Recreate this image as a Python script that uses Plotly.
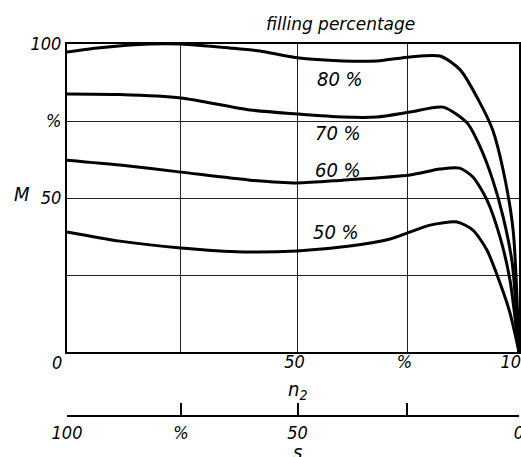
import plotly.graph_objects as go

# n2 values (x) and M values (y) for each filling percentage curve
x80 = [0, 7.3, 18.4, 25.2, 36, 42.7, 50.9, 61, 68.6, 75.9, 82.5, 87, 91.4, 94.2, 96.5, 98.7, 100]
y80 = [97.4, 98.8, 100, 100, 98.7, 97.7, 95.5, 94.5, 94.5, 95.8, 96.1, 91.6, 80.8, 72, 59, 39.6, 0]

x70 = [0, 11.7, 25.2, 40.5, 50.9, 61, 68.6, 75.9, 83.2, 88.5, 91.4, 94.2, 96.5, 98.5, 100]
y70 = [83.8, 83.6, 82.5, 78.6, 77.3, 76.3, 76.3, 77.9, 79.5, 74.4, 66.6, 55.8, 43.8, 28.9, 0]

x60 = [0, 11.7, 25.2, 40.5, 50.9, 61, 75.9, 82.5, 86.9, 89.8, 92.9, 95.8, 98, 100]
y60 = [62.3, 60.7, 58.4, 55.8, 54.9, 55.8, 57.5, 59.4, 59.7, 56.8, 49.4, 37.3, 23.4, 0]

x50 = [0, 11.7, 25.2, 38.9, 50.9, 62.6, 71.5, 75.2, 80.3, 86.3, 89.8, 92.9, 95.8, 98, 100]
y50 = [39, 36, 33.8, 32.5, 32.8, 34.4, 36.7, 38.6, 41.2, 42.2, 39.6, 33.1, 22.4, 12.7, 0]

series_names = ["80 %", "70 %", "60 %", "50 %"]
label_x = [60.5, 60, 60, 59.5]
label_y = [88.5, 71, 59, 39]

n2_ticks = [51, 75.3, 100]
n2_ticktext = ["50", "%", "100"]
n2_minor = [25.2]
s_ticks = [100, 74.8, 49, 0]
s_ticktext = ["100", "%", "50", "0"]
s_minor = [24.7]
m_ticks = [50, 75, 100]
m_ticktext = ["50", "%", "100"]
m_minor = [25]

FONT = "Liberation Sans Narrow, DejaVu Sans Condensed, Arial Narrow, sans-serif"

fig = go.Figure()
for xs, ys in [(x80, y80), (x70, y70), (x60, y60), (x50, y50)]:
    fig.add_trace(go.Scatter(x=xs, y=ys, mode="lines",
                             line=dict(color="black", width=3, shape="spline", smoothing=0.7),
                             showlegend=False, hoverinfo="skip"))

# invisible trace for the s axis
fig.add_trace(go.Scatter(x=[0, 100], y=[0, 0], xaxis="x2", yaxis="y",
                         mode="markers", marker=dict(opacity=0), showlegend=False, hoverinfo="skip"))

for name, lx, ly in zip(series_names, label_x, label_y):
    fig.add_annotation(x=lx, y=ly, text=name, showarrow=False,
                       font=dict(family=FONT, size=20, color="black", style="italic"))

fig.add_annotation(xref="paper", yref="paper", x=0.606, y=1.0, yanchor="bottom", yshift=8,
                   text="filling percentage", showarrow=False,
                   font=dict(family="DejaVu Sans", size=17, color="black", style="italic"))
fig.add_annotation(xref="paper", yref="y", x=-0.1, y=50, xanchor="center", yshift=4,
                   text="M", showarrow=False,
                   font=dict(family=FONT, size=20, color="black", style="italic"))
fig.add_annotation(xref="x", yref="paper", x=0, y=0.172, yanchor="top", xshift=-10, yshift=2,
                   text="0", showarrow=False,
                   font=dict(family=FONT, size=18, color="black", style="italic"))
fig.add_annotation(xref="x", yref="paper", x=51, y=0.172, yshift=-53,
                   text="n<sub>2</sub>", showarrow=False,
                   font=dict(family=FONT, size=20, color="black", style="italic"))
fig.add_annotation(xref="x", yref="paper", x=51, y=0.0, yshift=-50,
                   text="s", showarrow=False,
                   font=dict(family=FONT, size=20, color="black", style="italic"))

tickfont = dict(family=FONT, size=18, color="black", style="italic")
grid = dict(showgrid=True, gridcolor="#222", gridwidth=1)

fig.update_layout(
    width=521, height=457,
    margin=dict(l=67, r=2, t=44, b=41, autoexpand=False),
    plot_bgcolor="white", paper_bgcolor="white",
    xaxis=dict(range=[0, 100], tickvals=n2_ticks, ticktext=n2_ticktext,
               minor=dict(tickvals=n2_minor, **grid), **grid,
               showline=True, linecolor="black", linewidth=2, mirror=True,
               ticks="", tickfont=tickfont, ticklabelstandoff=-8, ticklabelshift=-3,
               ticklabeloverflow="allow", automargin=False, zeroline=False, fixedrange=True),
    yaxis=dict(range=[0, 100], domain=[0.172, 1], tickvals=m_ticks, ticktext=m_ticktext,
               minor=dict(tickvals=m_minor, **grid), **grid,
               showline=True, linecolor="black", linewidth=2, mirror=True,
               ticks="", tickfont=tickfont, ticklabeloverflow="allow", automargin=False,
               zeroline=False, fixedrange=True),
    xaxis2=dict(range=[100, 0], overlaying="x", anchor="free", position=0, side="bottom",
                tickvals=s_ticks, ticktext=s_ticktext, showgrid=False, zeroline=False,
                showline=True, linecolor="black", linewidth=2,
                ticks="inside", ticklen=12, tickwidth=1.5, tickcolor="black",
                minor=dict(tickvals=s_minor, ticks="inside", ticklen=12, tickwidth=1.5,
                           tickcolor="black", showgrid=False),
                ticklabeloverflow="allow", automargin=False, tickfont=tickfont, fixedrange=True),
)

fig.write_html("out.html", config={"displayModeBar": False},
               post_script="document.body.style.margin='0';")
